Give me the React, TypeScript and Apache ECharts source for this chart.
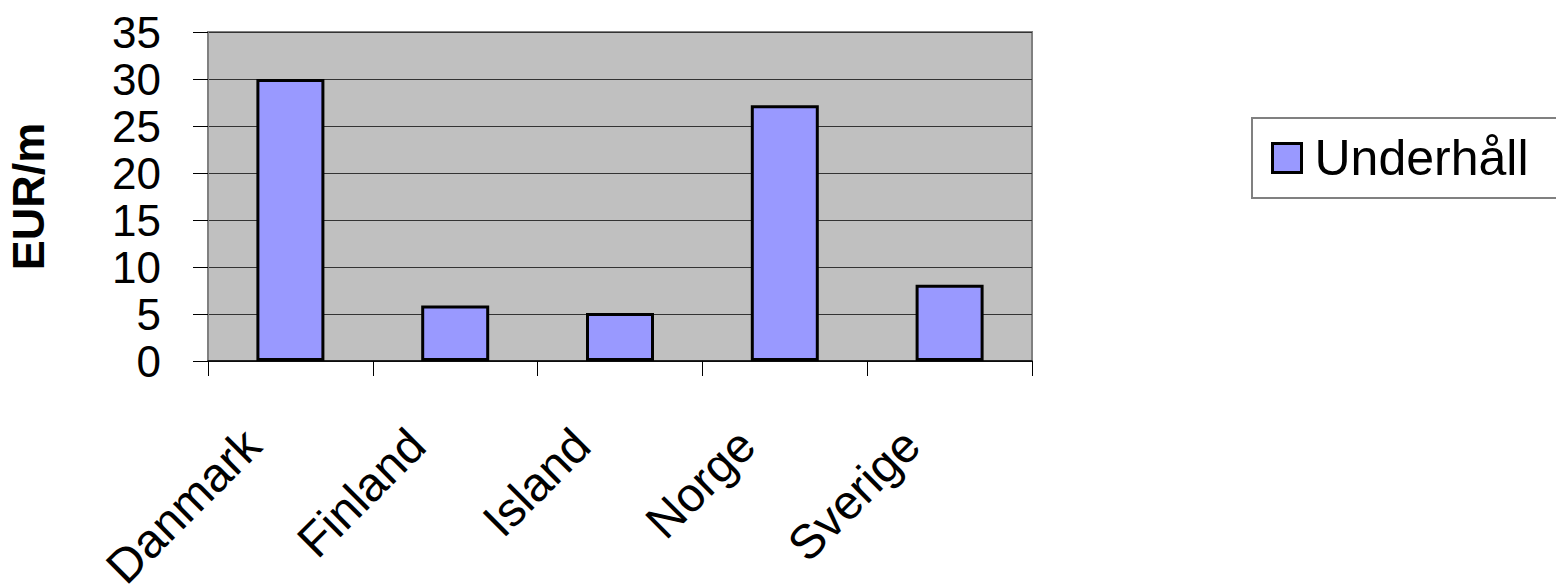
import React, { useEffect, useRef } from "react";
import * as echarts from "echarts";

const categories = ["Danmark", "Finland", "Island", "Norge", "Sverige"];
const underhall = [30, 5.9, 5.1, 27.2, 8.1];
const seriesName = "Underhåll";
const yAxisName = "EUR/m";
const yMin = 0;
const yMax = 35;
const yInterval = 5;

export default function App() {
  const ref = useRef<HTMLDivElement>(null);
  useEffect(() => {
    if (!ref.current) return;
    const chart = echarts.init(ref.current, undefined, { renderer: "svg" });
    const font = "'Liberation Sans', Arial, sans-serif";
    chart.setOption({
      animation: false,
      textStyle: { fontFamily: font },
      grid: {
        left: 208,
        right: 524,
        top: 32,
        bottom: 226,
        containLabel: false,
        outerBoundsMode: "none",
        show: true,
        backgroundColor: "#C0C0C0",
        borderColor: "#808080",
        borderWidth: 2,
      },
      legend: {
        data: [seriesName],
        left: 1252,
        top: 118,
        orient: "vertical",
        padding: [15, 40, 15, 19],
        borderColor: "#808080",
        borderWidth: 2,
        backgroundColor: "#FFFFFF",
        icon: "rect",
        itemWidth: 29,
        itemHeight: 29,
        itemStyle: { color: "#9999FF", borderColor: "#000000", borderWidth: 3 },
        textStyle: {
          fontSize: 50,
          color: "#000000",
          fontFamily: font,
          lineHeight: 50,
          padding: [0, 0, 0, 8],
        },
      },
      xAxis: {
        type: "category",
        data: categories,
        axisLine: { show: true, lineStyle: { color: "#000000", width: 1.5 } },
        axisTick: { show: true, length: 15, lineStyle: { color: "#000000", width: 1 } },
        axisLabel: {
          interval: 0,
          rotate: 45,
          fontSize: 48,
          color: "#000000",
          fontFamily: font,
          margin: 38,
          padding: [0, 54, 0, 0],
        },
      },
      yAxis: {
        type: "value",
        min: yMin,
        max: yMax,
        interval: yInterval,
        name: yAxisName,
        nameLocation: "middle",
        nameGap: 157,
        nameRotate: 90,
        nameTextStyle: { fontSize: 45, fontWeight: "bold", color: "#000000", fontFamily: font },
        axisLine: { show: true, lineStyle: { color: "#808080", width: 2 } },
        axisTick: { show: true, length: 15, lineStyle: { color: "#000000", width: 1 } },
        axisLabel: { fontSize: 44, color: "#000000", fontFamily: font, margin: 47 },
        splitLine: { show: true, lineStyle: { color: "#333333", width: 1 } },
      },
      series: [
        {
          name: seriesName,
          type: "bar",
          data: underhall,
          barWidth: 68,
          itemStyle: { color: "#9999FF", borderColor: "#000000", borderWidth: 3 },
        },
      ],
    });
    return () => chart.dispose();
  }, []);
  return (
    <div
      ref={ref}
      style={{ position: "fixed", left: 0, top: 0, width: 1556, height: 587, background: "#FFFFFF" }}
    />
  );
}
